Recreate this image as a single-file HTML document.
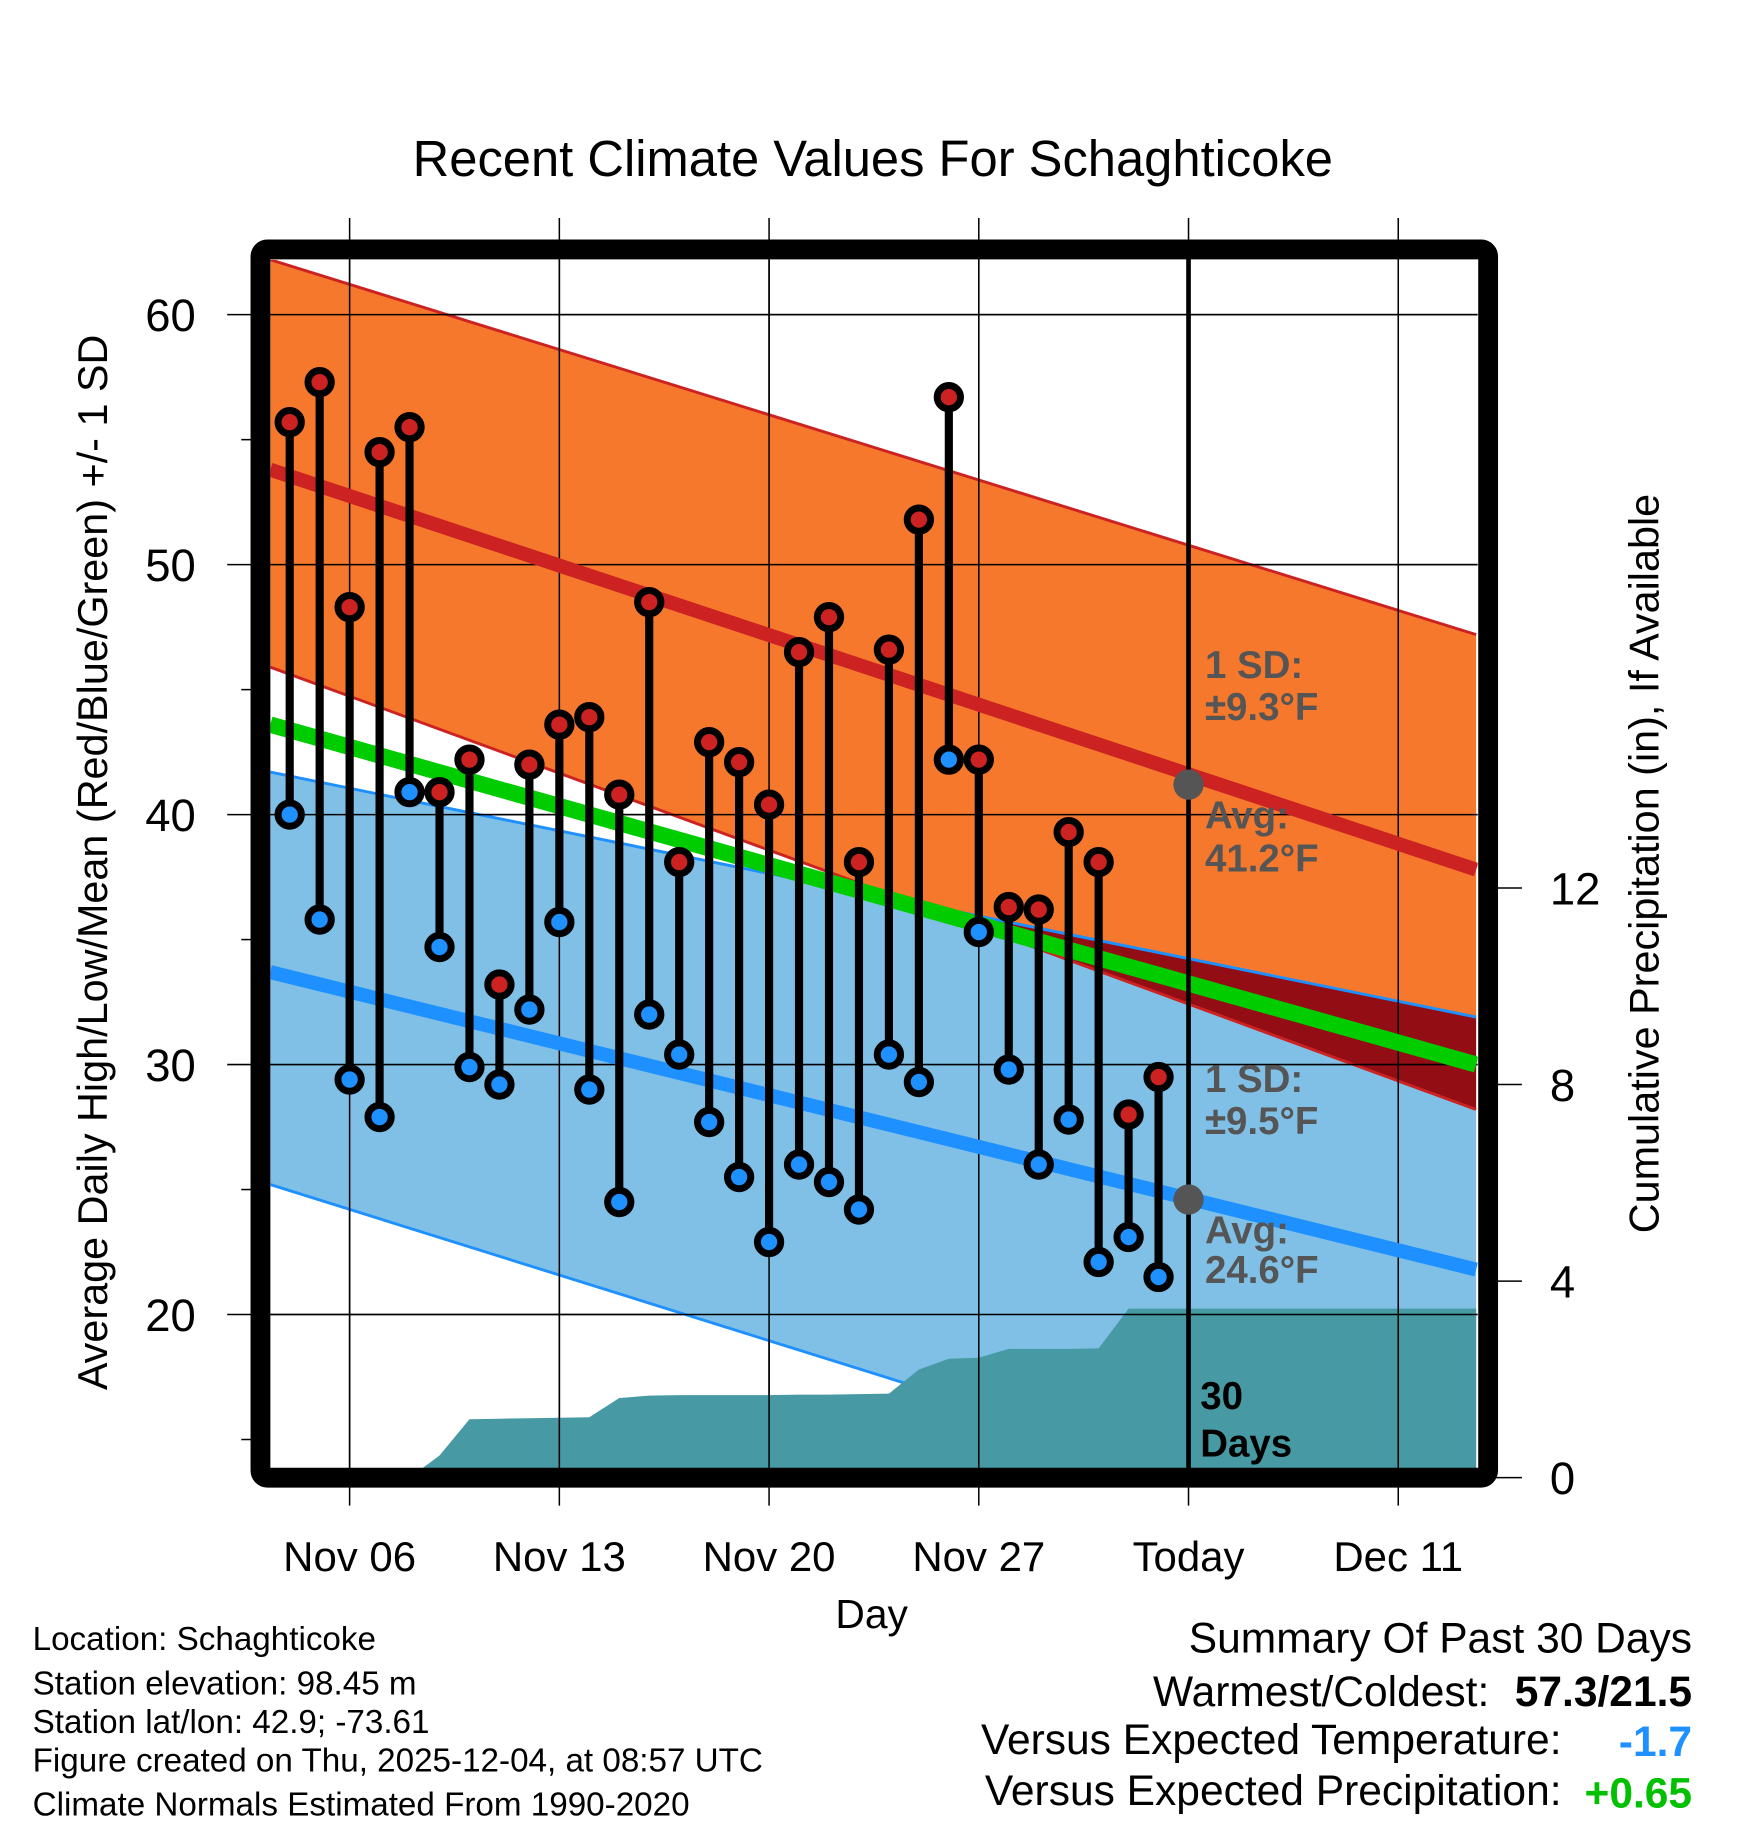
<!DOCTYPE html>
<html><head><meta charset="utf-8"><style>
html,body{margin:0;padding:0;background:#fff}
svg{display:block;font-family:"Liberation Sans",sans-serif}
</style></head><body>
<svg id="chart" xmlns="http://www.w3.org/2000/svg" width="1748" height="1828" viewBox="0 0 1500 1568.6">
<defs>
<clipPath id="plotClip"><rect x="232" y="223" width="1036" height="1037"/></clipPath>
<clipPath id="lowBandClip"><polygon id="lowBandClipPoly" points=""/></clipPath>
</defs>
<text x="749" y="151" font-size="43.5" text-anchor="middle">Recent Climate Values For Schaghticoke</text>
<g id="grid"></g>
<g id="plot" clip-path="url(#plotClip)"></g>
<g id="overlay"></g>
<rect x="223.5" y="214" width="1053.5" height="1054" fill="none" stroke="#000" stroke-width="17" rx="6"/>
<g id="axes"></g>
<text transform="translate(92,740) rotate(-90)" font-size="35.5" text-anchor="middle">Average Daily High/Low/Mean (Red/Blue/Green) +/- 1 SD</text>
<text transform="translate(1423,741) rotate(-90)" font-size="35.5" text-anchor="middle">Cumulative Precipitation (in), If Available</text>
<text x="748" y="1397" font-size="35" text-anchor="middle">Day</text>
<g font-size="28.5">
<text x="28" y="1416">Location: Schaghticoke</text>
<text x="28" y="1454">Station elevation: 98.45 m</text>
<text x="28" y="1487">Station lat/lon: 42.9; -73.61</text>
<text x="28" y="1520">Figure created on Thu, 2025-12-04, at 08:57 UTC</text>
<text x="28" y="1558">Climate Normals Estimated From 1990-2020</text>
</g>
<g font-size="36.5">
<text x="1452" y="1418" text-anchor="end">Summary Of Past 30 Days</text>
<text x="1278" y="1464" text-anchor="end">Warmest/Coldest:</text>
<text x="1452" y="1464" text-anchor="end" font-weight="bold">57.3/21.5</text>
<text x="1340" y="1505" text-anchor="end">Versus Expected Temperature:</text>
<text x="1452" y="1507" text-anchor="end" font-weight="bold" fill="#1e90ff">-1.7</text>
<text x="1340" y="1549" text-anchor="end">Versus Expected Precipitation:</text>
<text x="1452" y="1551" text-anchor="end" font-weight="bold" fill="#00c000">+0.65</text>
</g>
</svg>
<script>
// ---- data ----
const days = ["Nov 04","Nov 05","Nov 06","Nov 07","Nov 08","Nov 09","Nov 10","Nov 11","Nov 12","Nov 13","Nov 14","Nov 15","Nov 16","Nov 17","Nov 18","Nov 19","Nov 20","Nov 21","Nov 22","Nov 23","Nov 24","Nov 25","Nov 26","Nov 27","Nov 28","Nov 29","Nov 30","Dec 01","Dec 02","Dec 03"];
const highs = [55.7,57.3,48.3,54.5,55.5,40.9,42.2,33.2,42.0,43.6,43.9,40.8,48.5,38.1,42.9,42.1,40.4,46.5,47.9,38.1,46.6,51.8,56.7,42.2,36.3,36.2,39.3,38.1,28.0,29.5];
const lows = [40.0,35.8,29.4,27.9,40.9,34.7,29.9,29.2,32.2,35.7,29.0,24.5,32.0,30.4,27.7,25.5,22.9,26.0,25.3,24.2,30.4,29.3,42.2,35.3,29.8,26.0,27.8,22.1,23.1,21.5];
const precipCum = [0,0,0,0,0,0.45,1.19,1.2,1.21,1.22,1.23,1.62,1.67,1.68,1.68,1.68,1.68,1.69,1.69,1.7,1.71,2.2,2.42,2.44,2.62,2.62,2.62,2.63,3.44,3.44];
// normals at left (day -0.65) and right (day 39.6) plot edges
const normEdgeDays = [-0.65, 39.6];
const normHighAvg = [53.8, 37.8];
const normHighUpper = [62.2, 47.2];
const normHighLower = [45.9, 28.2];
const normLowAvg = [33.7, 21.8];
const normLowUpper = [41.7, 31.9];
const normLowLower = [25.2, 10.1];
const normMean = [43.6, 30.0];
const xTickDays = [2, 9, 16, 23, 30, 37];
const xTickLabels = ["Nov 06","Nov 13","Nov 20","Nov 27","Today","Dec 11"];
const yTicks = [20, 30, 40, 50, 60];
const yMinorTicks = [15, 25, 35, 45, 55];
const y2Ticks = [0, 4, 8, 12];
const todayDay = 30;
const todayHighAvg = 41.2, todayLowAvg = 24.6;

// ---- axes functions ----
const X = d => 248.6 + d * 25.71;
const Y = v => 270 + (60 - v) * 21.45;
const YP = p => 1268 - p * 42.17;
const NS = "http://www.w3.org/2000/svg";
function mk(tag, attrs, parent){const e=document.createElementNS(NS,tag);for(const k in attrs)e.setAttribute(k,attrs[k]);parent.appendChild(e);return e;}
const grid = document.getElementById('grid'), plot = document.getElementById('plot'), axes = document.getElementById('axes'), overlay = document.getElementById('overlay');
const L = normEdgeDays[0], R = normEdgeDays[1];
function bandPts(top, bot){return `${X(L)},${Y(top[0])} ${X(R)},${Y(top[1])} ${X(R)},${Y(bot[1])} ${X(L)},${Y(bot[0])}`;}
function linePts(a){return `${X(L)},${Y(a[0])} ${X(R)},${Y(a[1])}`;}

// grid
yTicks.forEach(v=>{
  const g = mk('line',{x1:195,x2:1268,y1:Y(v),y2:Y(v),stroke:'#000','stroke-width':1.3},grid);
  
  
  const t = mk('text',{x:168,y:Y(v)+14,'font-size':39,'text-anchor':'end'},axes);
  t.textContent = v;
  
  
});
yMinorTicks.forEach(v=>{
  const g = mk('line',{x1:207,x2:220,y1:Y(v),y2:Y(v),stroke:'#000','stroke-width':1.3},grid);
  
  
});
xTickDays.forEach((d,i)=>{
  const g = mk('line',{x1:X(d),x2:X(d),y1:187,y2:1292,stroke:'#000','stroke-width':1.3},grid);
  
  
  const t = mk('text',{x:X(d),y:1348,'font-size':36,'text-anchor':'middle'},axes);
  t.textContent = xTickLabels[i];
  
  
});
y2Ticks.forEach(p=>{
  const g = mk('line',{x1:1283,x2:1306,y1:YP(p),y2:YP(p),stroke:'#000','stroke-width':1.3},axes);
  
  
  const t = mk('text',{x:1330,y:YP(p)+14,'font-size':39},axes);
  t.textContent = p;
  
  
});

// bands
let e;
e = mk('polygon',{points:bandPts(normHighUpper,normHighLower),fill:'#f5782d'},plot);


e = mk('polygon',{points:bandPts(normLowUpper,normLowLower),fill:'#80c0e6'},plot);


document.getElementById('lowBandClipPoly').setAttribute('points',bandPts(normLowUpper,normLowLower));
e = mk('polygon',{points:bandPts(normHighUpper,normHighLower),fill:'#930d14','clip-path':'url(#lowBandClip)'},plot);


// thin band edges
[normHighUpper,normHighLower].forEach(a=>{
  e = mk('polyline',{points:linePts(a),stroke:'#cc2222','stroke-width':2.5,fill:'none'},plot);
  
  
});
[normLowUpper,normLowLower].forEach(a=>{
  e = mk('polyline',{points:linePts(a),stroke:'#1e90ff','stroke-width':2.5,fill:'none'},plot);
  
  
});
// precip
let pp = `${X(0)},${YP(0)} `;
precipCum.forEach((p,i)=>{pp += `${X(i)},${YP(p)} `;});
pp += `${X(R)},${YP(precipCum[precipCum.length-1])} ${X(R)},${YP(0)}`;
e = mk('polygon',{points:pp,fill:'#4799a3'},plot);


// re-draw gridlines inside plot over fills
yTicks.forEach(v=>{
  e = mk('line',{x1:232,x2:1268,y1:Y(v),y2:Y(v),stroke:'#000','stroke-width':1.3},plot);
  
  
});
xTickDays.forEach(d=>{
  e = mk('line',{x1:X(d),x2:X(d),y1:223,y2:1260,stroke:'#000','stroke-width':1.3},plot);
  
  
});
// avg lines
e = mk('polyline',{points:linePts(normMean),stroke:'#00cc00','stroke-width':14,fill:'none'},plot);


e = mk('polyline',{points:linePts(normHighAvg),stroke:'#cc2222','stroke-width':12,fill:'none'},plot);


e = mk('polyline',{points:linePts(normLowAvg),stroke:'#1e90ff','stroke-width':12,fill:'none'},plot);


// today line
e = mk('line',{x1:X(todayDay),x2:X(todayDay),y1:222,y2:1262,stroke:'#000','stroke-width':4},overlay);


// daily stems
days.forEach((d,i)=>{
  const g = mk('g',{},overlay);
  
  
  mk('line',{x1:X(i),x2:X(i),y1:Y(highs[i]),y2:Y(lows[i]),stroke:'#000','stroke-width':7},g);
  const h = mk('circle',{cx:X(i),cy:Y(highs[i]),r:10,fill:'#cc2222',stroke:'#000','stroke-width':6},g);
  
  
  const l = mk('circle',{cx:X(i),cy:Y(lows[i]),r:10,fill:'#1e90ff',stroke:'#000','stroke-width':6},g);
  
  
});
// today markers
e = mk('circle',{cx:X(todayDay),cy:Y(todayHighAvg),r:13,fill:'#555'},overlay);


e = mk('circle',{cx:X(todayDay),cy:Y(todayLowAvg),r:13,fill:'#555'},overlay);


// annotations
const ann = [["1 SD:",582,'#555','high-sd-label'],["±9.3°F",618,'#555','high-sd-value'],["Avg:",711,'#555','high-avg-label'],["41.2°F",748,'#555','high-avg-value'],
["1 SD:",937,'#555','low-sd-label'],["±9.5°F",973,'#555','low-sd-value'],["Avg:",1067,'#555','low-avg-label'],["24.6°F",1101,'#555','low-avg-value'],
["30",1209,'#000','days-count'],["Days",1250,'#000','days-label']];
ann.forEach(([t,y,c,n])=>{
  const x = (n==='days-count'||n==='days-label') ? 1030 : 1034;
  const el = mk('text',{x:x,y:y,'font-size':33,'font-weight':'bold',fill:c},overlay);
  el.textContent = t;
  
  
});
</script>
</body></html>
